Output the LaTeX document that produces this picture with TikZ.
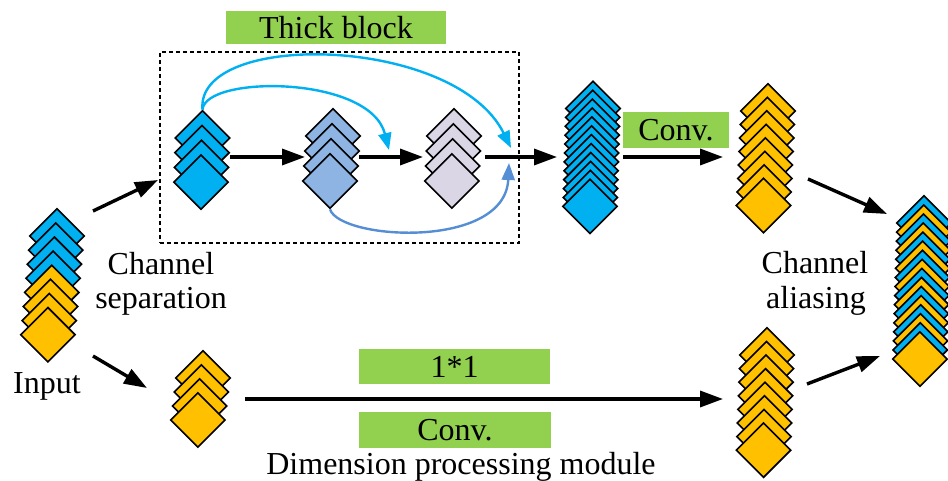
\documentclass[tikz,border=0pt]{standalone}
\usepackage{fontspec}
\setmainfont{Liberation Serif}
\usetikzlibrary{shapes.geometric,arrows.meta,calc}

\definecolor{chblue}{HTML}{00B0F0}
\definecolor{chyel}{HTML}{FFC000}
\definecolor{chmid}{HTML}{8EB4E3}
\definecolor{chlav}{HTML}{DAD6E6}
\definecolor{tagGreen}{HTML}{92D050}
\definecolor{skipBlue}{HTML}{558ED5}

\tikzset{
  chan/.style={diamond, draw=black, line width=1.6pt, inner sep=0pt,
               minimum width=55pt, minimum height=55pt},
  flow/.style={line width=3.4pt, -{Triangle[length=23pt,width=16pt]}},
  skip/.style={line width=2.4pt, -{Triangle[length=17pt,width=13pt]}},
  tag/.style={fill=tagGreen, inner sep=0pt, font=\fontsize{32}{36}\selectfont},
  lbl/.style={inner sep=0pt, anchor=base, font=\fontsize{32}{36}\selectfont},
  frame/.style={draw=black, line width=1.8pt, dash pattern=on 4pt off 3pt},
}

% a stack of feature channels: name, centre of the top diamond,
% offset from one diamond to the next, fill colours from top to bottom
\newcommand\chstack[4]{%
  \foreach \c [count=\k from 0] in {#4} {
    \node[chan, fill=\c] (#1-\k) at ($(#2)+\k*(#3)$) {};
  }%
}

\begin{document}
\begin{tikzpicture}[x=1pt,y=-1pt]
\useasboundingbox (0,0) rectangle (948,481);

% ---- thick block frame and title
\node[frame, minimum width=359pt, minimum height=191pt, inner sep=0pt] (block) at (339.5,147.5) {};
\node[tag, minimum width=220pt, minimum height=33pt] (thick) at (336,27.5) {Thick block};

% ---- channel stacks
\chstack{in}{57,236}{-1.3,14.1}{chblue,chblue,chblue,chblue,chyel,chyel,chyel,chyel}
\chstack{sm}{203,378}{-1.7,14}{chyel,chyel,chyel,chyel}
\chstack{A}{202.5,138}{-0.5,14.7}{chblue,chblue,chblue,chblue}
\chstack{B}{333,136}{-1,15}{chmid,chmid,chmid,chmid}
\chstack{C}{454,136}{-0.7,15}{chlav,chlav,chlav,chlav}
\chstack{cat}{593,108.5}{-0.27,8.9}{chblue,chblue,chblue,chblue,chblue,chblue,chblue,chblue,chblue,chblue,chblue,chblue}
\chstack{cv}{768,111}{-0.64,13.5}{chyel,chyel,chyel,chyel,chyel,chyel,chyel,chyel}
\chstack{dp}{767,355}{-0.5,13.6}{chyel,chyel,chyel,chyel,chyel,chyel,chyel,chyel}
\chstack{mix}{924,223}{-0.27,9.07}{chblue,chyel,chblue,chyel,chblue,chyel,chblue,chyel,chblue,chyel,chblue,chyel,chblue,chyel,chblue,chyel}

% ---- arrow end points
\coordinate (inUp) at (93,211);     \coordinate (blockIn) at (158,180);
\coordinate (inDown) at (93,356);   \coordinate (smIn) at (147,388);
\coordinate (Aout) at (230,157);    \coordinate (Bin) at (305,157);
\coordinate (Bout) at (359,157);    \coordinate (Cin) at (423,157);
\coordinate (Cout) at (485,157);    \coordinate (catIn) at (557,157);
\coordinate (catOut) at (623,157);  \coordinate (cvIn) at (723,157);
\coordinate (cvOut) at (808,179);   \coordinate (mixInUp) at (887,214);
\coordinate (smOut) at (245,399);   \coordinate (dpIn) at (723,399);
\coordinate (dpOut) at (807,384);   \coordinate (mixInDown) at (880,356);
\coordinate (midSkip) at (389,150);
\coordinate (longSkip) at (511,148);
\coordinate (lowSkip) at (509,163);

% ---- main flow
\draw[flow] (inUp) -- (blockIn);
\draw[flow] (inDown) -- (smIn);
\draw[flow] (Aout) -- (Bin);
\draw[flow] (Bout) -- (Cin);
\draw[flow] (Cout) -- (catIn);
\draw[flow] (catOut) -- (cvIn);
\draw[flow] (cvOut) -- (mixInUp);
\draw[flow] (smOut) -- (dpIn);
\draw[flow] (dpOut) -- (mixInDown);

% ---- skip connections inside the block
\draw[skip, chblue] (A-0.north) .. controls (205,75) and (370,75) .. (midSkip);
\draw[skip, chblue] (A-0.north) .. controls (195,30) and (455,35) .. (longSkip);
\draw[skip, skipBlue] (B-3.south) .. controls (340,240) and (505,250) .. (lowSkip);

% ---- green tags
\node[tag, minimum width=106pt, minimum height=36pt] (conv1) at (676,130) {Conv.};
\node[tag, minimum width=191pt, minimum height=35pt] (one) at (454.5,366.5) {1*1};
\node[tag, minimum width=192pt, minimum height=36pt] (conv2) at (455,430) {Conv.};

% ---- labels
\node[lbl] (sepA) at (161,275) {Channel};
\node[lbl] (sepB) at (161,308) {separation};
\node[lbl] (inp) at (47,393) {Input};
\node[lbl] (aliA) at (815,273) {Channel};
\node[lbl] (aliB) at (816,308) {aliasing};
\node[lbl] (dpm) at (461,474) {Dimension processing module};
\end{tikzpicture}
\end{document}
